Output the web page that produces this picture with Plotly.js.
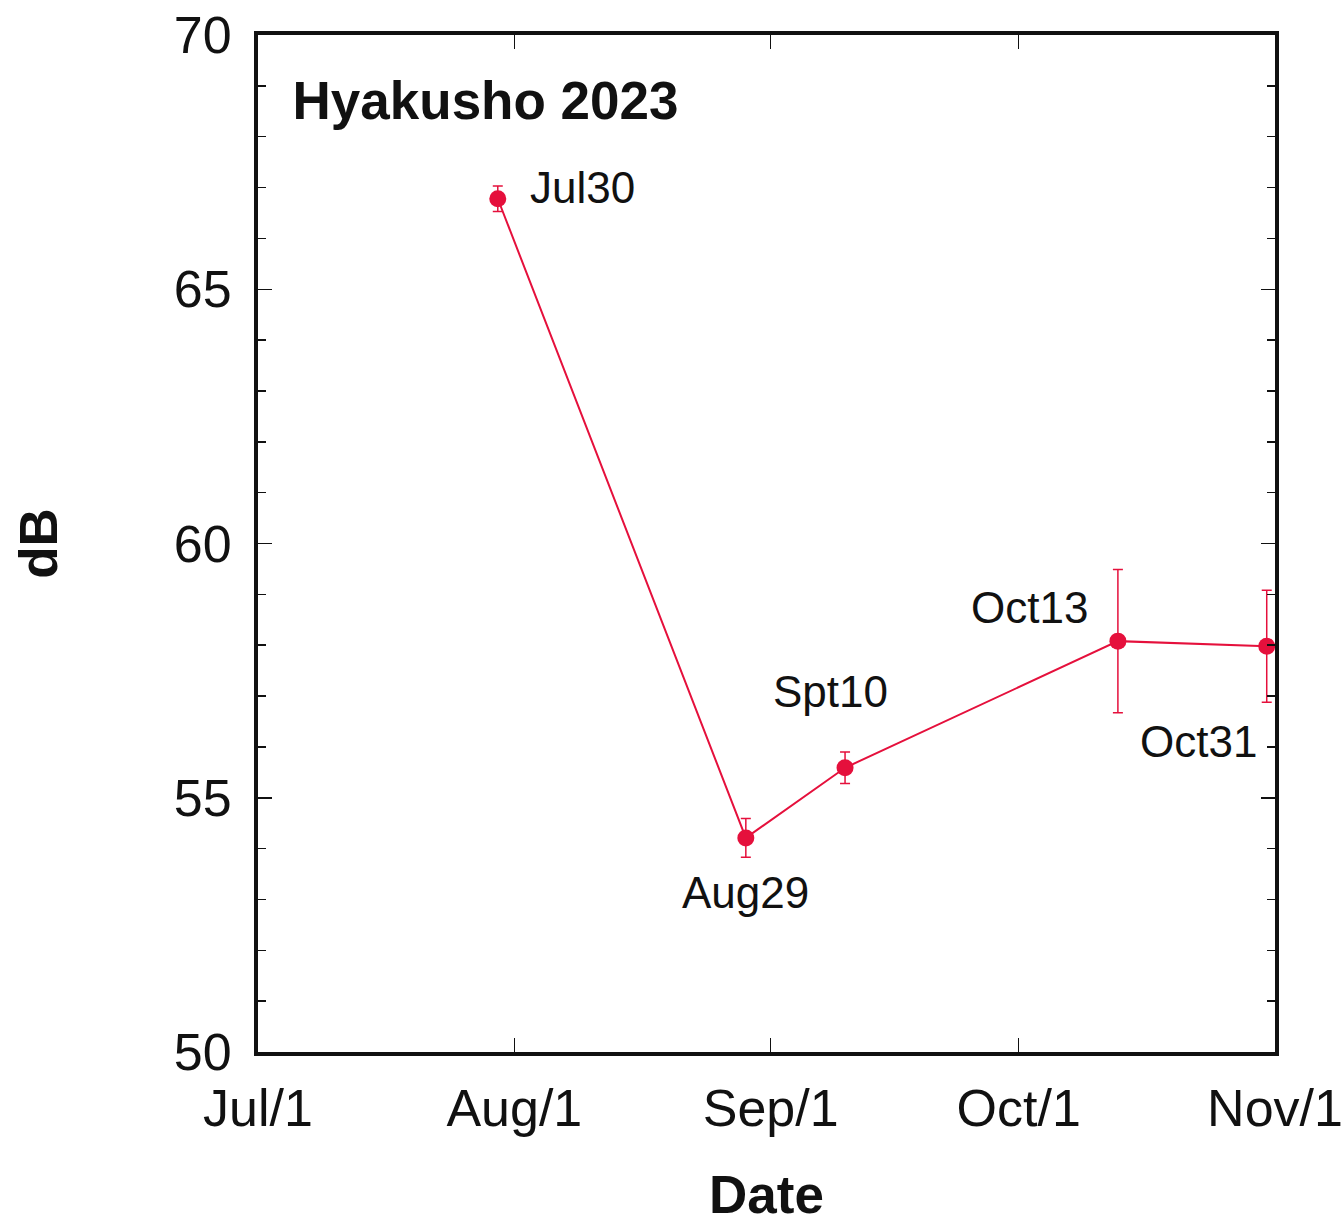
<!DOCTYPE html>
<html>
<head>
<meta charset="utf-8">
<script src="https://cdn.plot.ly/plotly-3.0.1.min.js"></script>
<style>html,body{margin:0;padding:0;background:#fff;}#chart{width:1344px;height:1225px;}</style>
</head>
<body>
<div id="chart"></div>
<script>
// ---- data ----
const dates = ['2023-07-30', '2023-08-29', '2023-09-10', '2023-10-13', '2023-10-31'];
const dB = [66.78, 54.21, 55.59, 58.08, 57.98];
const errs = [0.25, 0.38, 0.31, 1.41, 1.10];
const pointLabels = ['Jul30', 'Aug29', 'Spt10', 'Oct13', 'Oct31'];
const chartTitle = 'Hyakusho 2023';
const xTitle = 'Date';
const yTitle = 'dB';

// ---- style ----
const red = '#e5103c';
const font = 'Liberation Sans, Arial, sans-serif';
const labelOffsets = [
  {xs: 30, ys: 11, xa: 'left'},
  {xs: 0, ys: -55, xa: 'center'},
  {xs: -15, ys: 76, xa: 'center'},
  {xs: -88, ys: 34, xa: 'center'},
  {xs: -68, ys: -95, xa: 'center'}
];

const trace = {
  x: dates, y: dB, type: 'scatter', mode: 'lines+markers',
  line: {color: red, width: 2},
  marker: {color: red, size: 17},
  error_y: {type: 'data', array: errs, visible: true, color: red, thickness: 1.5, width: 5},
  cliponaxis: false,
  showlegend: false
};

const annotations = pointLabels.map((t, i) => ({
  x: dates[i], y: dB[i], xref: 'x', yref: 'y', text: t, showarrow: false,
  xanchor: labelOffsets[i].xa, yanchor: 'middle',
  xshift: labelOffsets[i].xs, yshift: labelOffsets[i].ys,
  font: {family: font, size: 44, color: '#111'}
}));

const layout = {
  width: 1344, height: 1225,
  paper_bgcolor: '#fff', plot_bgcolor: '#fff',
  margin: {l: 258, r: 69, t: 35, b: 173},
  font: {family: font, color: '#111'},
  title: {
    text: '<b>' + chartTitle + '</b>', xref: 'paper', yref: 'paper',
    x: 0.034, y: 0.936, xanchor: 'left', yanchor: 'middle',
    font: {family: font, size: 53, color: '#111'}
  },
  xaxis: {
    type: 'date', range: ['2023-07-01', '2023-11-01'],
    tick0: '2023-07-01', dtick: 'M1', tickformat: '%b/%-d',
    ticks: 'inside', ticklen: 14, tickwidth: 1.5, tickcolor: '#111',
    showline: true, linewidth: 4, linecolor: '#111', mirror: 'ticks',
    showgrid: false, zeroline: false,
    tickfont: {family: font, size: 52, color: '#111'},
    ticklabelstandoff: 8,
    title: {text: '<b>' + xTitle + '</b>', font: {family: font, size: 53, color: '#111'}, standoff: 40}
  },
  yaxis: {
    range: [50, 70], dtick: 5, tick0: 50,
    ticks: 'inside', ticklen: 14, tickwidth: 1.5, tickcolor: '#111',
    minor: {dtick: 1, ticks: 'inside', ticklen: 8, tickwidth: 1.5, tickcolor: '#111', showgrid: false},
    showline: true, linewidth: 4, linecolor: '#111', mirror: 'ticks',
    showgrid: false, zeroline: false,
    tickfont: {family: font, size: 52, color: '#111'},
    ticklabelstandoff: 12,
    title: {text: '<b>' + yTitle + '</b>', font: {family: font, size: 53, color: '#111'}, standoff: 100}
  },
  annotations: annotations
};

Plotly.newPlot('chart', [trace], layout, {displayModeBar: false, staticPlot: true});
</script>
</body>
</html>
